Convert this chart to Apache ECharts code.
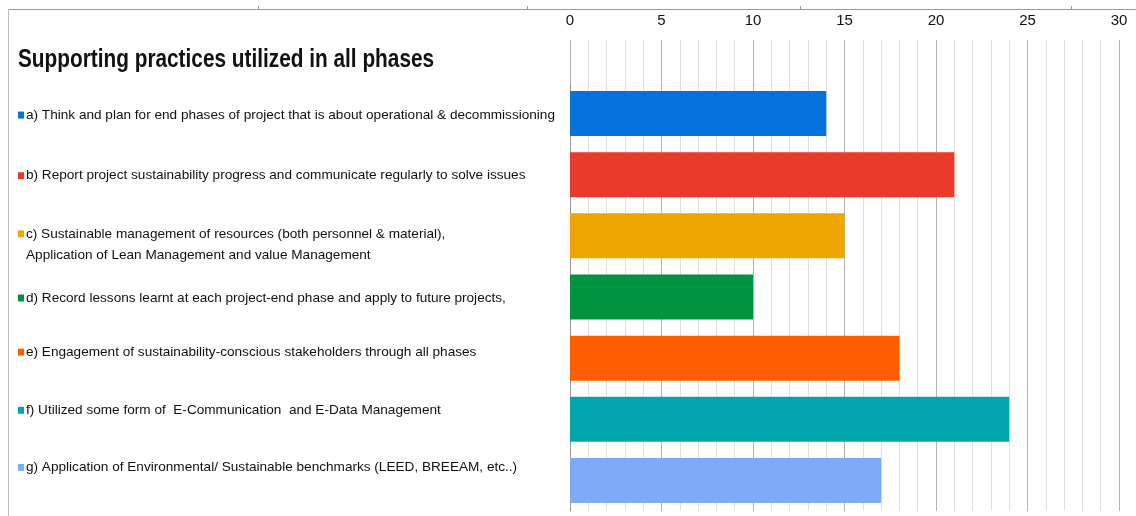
<!DOCTYPE html>
<html>
<head>
<meta charset="utf-8">
<style>
  html, body { margin: 0; padding: 0; background: #fff; }
  #chart { width: 1136px; height: 516px; }
</style>
<script src="https://cdn.jsdelivr.net/npm/echarts@6/dist/echarts.min.js"></script>
</head>
<body>
<div id="chart"></div>
<script>
var titleText = 'Supporting practices utilized in all phases';
var categories = [
  'a) Think and plan for end phases of project that is about operational & decommissioning',
  'b) Report project sustainability progress and communicate regularly to solve issues',
  'c) Sustainable management of resources (both personnel & material),\nApplication of Lean Management and value Management',
  'd) Record lessons learnt at each project-end phase and apply to future projects,',
  'e) Engagement of sustainability-conscious stakeholders through all phases',
  'f) Utilized some form of  E-Communication  and E-Data Management',
  'g) Application of Environmental/ Sustainable benchmarks (LEED, BREEAM, etc..)'
];
var values = [14, 21, 15, 10, 18, 24, 17];
var xTicks = [0, 30, 5];   // min, max, interval

// styling
var colors = ['#0672DB', '#EA3A2A', '#EEA700', '#009440', '#FF5E00', '#00A5AE', '#7FAAF6'];
var labelNudge = [1.5, 1, 8.5, 1, -6, -9, -13];
var font = '"Liberation Sans", Arial, sans-serif';

var chart = echarts.init(document.getElementById('chart'));

var rich = {
  t: { fontSize: 13.6, color: '#111', fontFamily: font, lineHeight: 21 },
  sp: { width: 2 },
  ind: { width: 8 }
};
colors.forEach(function (c, i) {
  rich['m' + i] = { width: 6, height: 7, backgroundColor: c, padding: 0 };
});

var yData = categories.map(function (c, i) {
  var d = labelNudge[i];
  var pad = d >= 0 ? [2 * d, 0, 0, 0] : [0, 0, -2 * d, 0];
  return { value: c, textStyle: { padding: pad, align: 'left' } };
});

var splitMajor = { show: true, lineStyle: { color: '#b4b4b4', width: 1 } };
var splitMinor = { show: true, lineStyle: { color: '#e0e0e0', width: 1 } };

var option = {
  backgroundColor: '#fff',
  animation: false,
  grid: [
    { left: 570, right: 17, top: 83, bottom: 5, containLabel: false, outerBoundsMode: 'none' },
    { left: 570, right: 17, top: 40, height: 43, containLabel: false, outerBoundsMode: 'none' }
  ],
  xAxis: [
    {
      gridIndex: 0, type: 'value', min: xTicks[0], max: xTicks[1], interval: xTicks[2],
      axisLabel: { show: false }, axisLine: { show: false }, axisTick: { show: false },
      splitLine: splitMajor, minorTick: { show: false, splitNumber: 5 }, minorSplitLine: splitMinor
    },
    {
      gridIndex: 1, type: 'value', position: 'top', min: xTicks[0], max: xTicks[1], interval: xTicks[2],
      axisLabel: { show: true, fontSize: 15, color: '#111', fontFamily: font, margin: 12 },
      axisLine: { show: false },
      axisTick: { show: true, length: 4, lineStyle: { color: '#b4b4b4' } },
      splitLine: splitMajor, minorTick: { show: false, splitNumber: 5 }, minorSplitLine: splitMinor
    }
  ],
  yAxis: [
    {
      gridIndex: 0, type: 'category', inverse: true, data: yData,
      axisLine: { show: true, lineStyle: { color: '#999' } },
      axisTick: { show: false },
      axisLabel: {
        align: 'left', margin: 552, verticalAlign: 'middle',
        formatter: function (v, i) {
          var lines = v.split('\n');
          var s = '{m' + i + '|}{sp|}{t|' + lines[0] + '}';
          for (var k = 1; k < lines.length; k++) s += '\n{ind|}{t|' + lines[k] + '}';
          return s;
        },
        rich: rich
      }
    },
    {
      gridIndex: 1, type: 'value', show: false, splitLine: { show: false }
    }
  ],
  series: [{
    type: 'bar', xAxisIndex: 0, yAxisIndex: 0, barWidth: 45,
    data: values.map(function (v, i) { return { value: v, itemStyle: { color: colors[i] } }; })
  }],
  graphic: [
    { type: 'line', shape: { x1: 8, y1: 9.5, x2: 1136, y2: 9.5 }, style: { stroke: '#999', lineWidth: 1 } },
    { type: 'line', shape: { x1: 8.5, y1: 9, x2: 8.5, y2: 516 }, style: { stroke: '#bbb', lineWidth: 1 } },
    { type: 'line', shape: { x1: 258.5, y1: 6, x2: 258.5, y2: 9 }, style: { stroke: '#999', lineWidth: 1 } },
    { type: 'line', shape: { x1: 527.5, y1: 6, x2: 527.5, y2: 9 }, style: { stroke: '#999', lineWidth: 1 } },
    { type: 'line', shape: { x1: 800.5, y1: 6, x2: 800.5, y2: 9 }, style: { stroke: '#999', lineWidth: 1 } },
    { type: 'line', shape: { x1: 1071.5, y1: 6, x2: 1071.5, y2: 9 }, style: { stroke: '#999', lineWidth: 1 } },
    {
      type: 'text', left: 18, top: 47, scaleX: 0.8,
      style: { text: titleText, font: 'bold 26px ' + font, fill: '#111' }
    }
  ]
};
chart.setOption(option);
</script>
</body>
</html>
